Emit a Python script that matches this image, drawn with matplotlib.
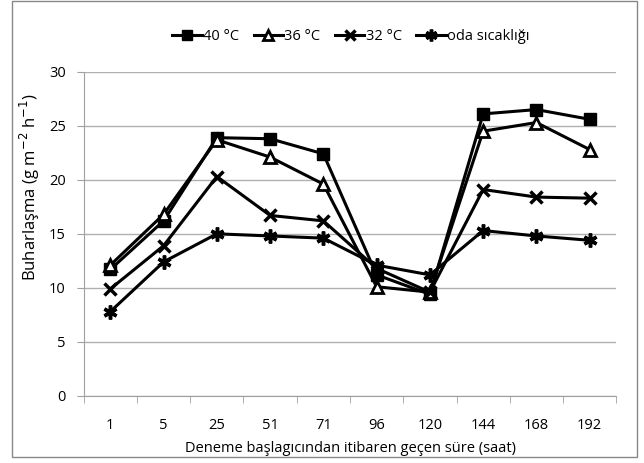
import matplotlib.pyplot as plt
import numpy as np
from matplotlib.patches import Rectangle

plt.rcParams['font.family'] = ['Open Sans', 'DejaVu Sans']

# time points (hours) and evaporation values
hours = ['1', '5', '25', '51', '71', '96', '120', '144', '168', '192']
t40 = [11.7, 16.2, 23.9, 23.8, 22.4, 11.2, 9.4, 26.1, 26.5, 25.6]
t36 = [12.1, 16.8, 23.7, 22.1, 19.6, 10.1, 9.6, 24.5, 25.3, 22.8]
t32 = [9.9, 13.9, 20.3, 16.7, 16.2, 11.8, 9.6, 19.1, 18.4, 18.3]
oda = [7.8, 12.4, 15.0, 14.8, 14.6, 12.1, 11.2, 15.3, 14.8, 14.4]

fig = plt.figure(figsize=(6.44, 4.63), dpi=100)
ax = fig.add_axes([0.130, 0.145, 0.827, 0.700])

x = np.arange(len(hours))
lw = 2.2
ax.plot(x, t40, color='black', lw=lw, marker='s', ms=8, mfc='black', label='40 °C', zorder=3)
ax.plot(x, t36, color='black', lw=lw, marker='^', ms=9, mfc='white', mew=2, label='36 °C', zorder=3)
ax.plot(x, t32, color='black', lw=lw, marker='x', ms=9, mew=2.5, label='32 °C', zorder=3)
ax.plot(x, oda, color='black', lw=lw, marker=(6, 2, 0), ms=10, mew=2.5, label='oda sıcaklığı', zorder=3)

ax.set_xlim(-0.5, len(hours) - 0.5)
ax.set_ylim(0, 30)
ax.set_yticks(range(0, 31, 5))
ax.set_xticks(x)
ax.set_xticklabels(hours)
ax.set_xticks(np.arange(-0.5, len(hours), 1), minor=True)
ax.tick_params(axis='x', which='major', length=0, labelsize=10.5, pad=16)
ax.tick_params(axis='x', which='minor', length=5, color='#a0a0a0')
ax.tick_params(axis='y', length=5, color='#a0a0a0', labelsize=10.5, pad=8)

ax.yaxis.grid(True, color='#b0b0b0', lw=1)
ax.set_axisbelow(True)
for s in ['top', 'right']:
    ax.spines[s].set_visible(False)
for s in ['left', 'bottom']:
    ax.spines[s].set_color('#a0a0a0')

ax.set_xlabel('Deneme başlagıcından itibaren geçen süre (saat)', fontsize=10.5, labelpad=6)
fig.text(30 / 644, 0.595, 'Buharlaşma (g m$^{-2}$ h$^{-1}$)', fontsize=12,
         rotation=90, ha='center', va='center')

fig.legend(loc='upper center', bbox_to_anchor=(0.545, 0.965), ncol=4, frameon=False,
           fontsize=10.5, handlelength=2.0, handletextpad=0.1, columnspacing=1.0,
           markerscale=0.85)

# outer chart border
fig.patches.append(Rectangle((0.019, 0.012), 0.970, 0.985, transform=fig.transFigure,
                             fill=False, edgecolor='#888888', lw=1))

fig.savefig('out.png', dpi=100)
